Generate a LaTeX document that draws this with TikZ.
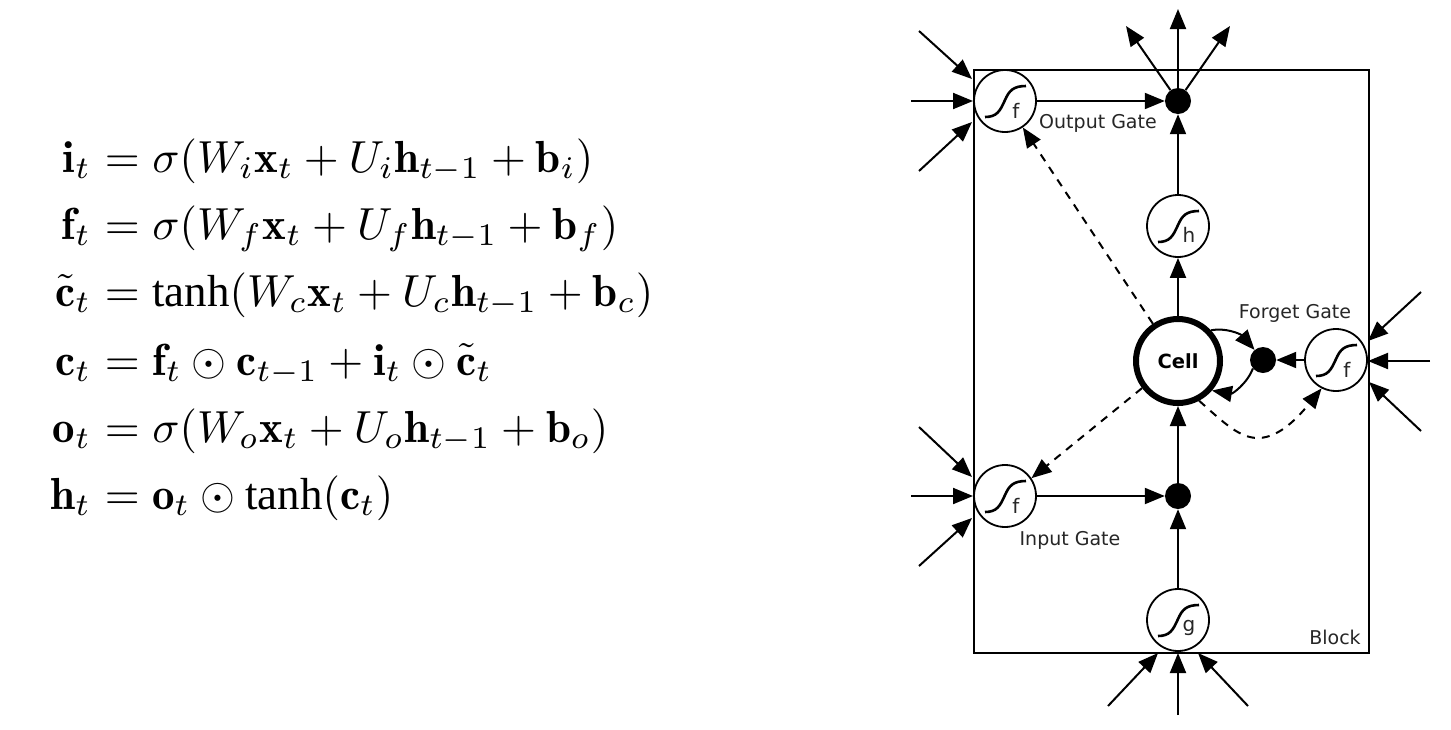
\documentclass[tikz,border=0pt]{standalone}
\usepackage{amsmath,amssymb}
\usepackage{fontspec}
\setsansfont{DejaVu Sans}
\newfontfamily\tanhfont{Liberation Serif}
\newcommand{\tanhop}{\mathop{\hbox{\tanhfont tanh}}\nolimits}
\usetikzlibrary{arrows.meta}
\tikzset{
  gatenode/.style={circle,draw,line width=1.8pt,minimum size=62pt,inner sep=0pt,fill=white},
  dotnode/.style={circle,fill=black,minimum size=26pt,inner sep=0pt},
  cellnode/.style={circle,draw,line width=6pt,minimum size=84pt,inner sep=0pt,fill=white,font=\sffamily\bfseries\fontsize{19.5}{20}\selectfont},
  arr/.style={line width=2pt,-{Triangle[length=20pt,width=16pt]}},
  dasharr/.style={arr,dash pattern=on 8pt off 7pt},
  lab/.style={font=\sffamily\fontsize{19}{20}\selectfont,text=black!85,inner sep=0pt},
  letter/.style={font=\sffamily\fontsize{20}{20}\selectfont,text=black!85,inner sep=0pt},
  lhs/.style={anchor=base east,inner sep=0pt,scale=4.49},
  rhs/.style={anchor=base west,inner sep=0pt,scale=4.49},
  sig/.pic={\draw[line width=2.6pt] (-20,16) .. controls (-8,16) and (-5,10) .. (0,-1) .. controls (4,-10) and (8,-15) .. (21,-15);}
}
\begin{document}
\begin{tikzpicture}[x=1pt,y=-1pt]
\useasboundingbox (0,0) rectangle (1451,729);
% equations
\node[lhs] (l1) at (92,172) {$\mathbf{i}_t$};
\node[rhs] (r1) at (104,172) {$=\sigma(W_i\mathbf{x}_t+U_i\mathbf{h}_{t-1}+\mathbf{b}_i)$};
\node[lhs] (l2) at (92,239) {$\mathbf{f}_t$};
\node[rhs] (r2) at (104,239) {$=\sigma(W_f\mathbf{x}_t+U_f\mathbf{h}_{t-1}+\mathbf{b}_f)$};
\node[lhs] (l3) at (92,306) {$\tilde{\mathbf{c}}_t$};
\node[rhs] (r3) at (104,306) {$=\tanhop(W_c\mathbf{x}_t+U_c\mathbf{h}_{t-1}+\mathbf{b}_c)$};
\node[lhs] (l4) at (92,375) {$\mathbf{c}_t$};
\node[rhs] (r4) at (104,375) {$=\mathbf{f}_t\odot\mathbf{c}_{t-1}+\mathbf{i}_t\odot\tilde{\mathbf{c}}_t$};
\node[lhs] (l5) at (92,442) {$\mathbf{o}_t$};
\node[rhs] (r5) at (104,442) {$=\sigma(W_o\mathbf{x}_t+U_o\mathbf{h}_{t-1}+\mathbf{b}_o)$};
\node[lhs] (l6) at (92,509) {$\mathbf{h}_t$};
\node[rhs] (r6) at (104,509) {$=\mathbf{o}_t\odot\tanhop(\mathbf{c}_t)$};
% block
\node[draw,line width=2pt,minimum width=395pt,minimum height=583pt,inner sep=0pt,anchor=north west] (block) at (973,69) {};
% nodes
\node[gatenode] (fo) at (1005,101) {};
\node[gatenode] (fi) at (1005,496) {};
\node[gatenode] (ff) at (1336,360) {};
\node[gatenode] (h) at (1178,226) {};
\node[gatenode] (g) at (1178,620) {};
\node[cellnode] (cell) at (1178,361) {Cell};
\node[dotnode] (do) at (1178,101) {};
\node[dotnode] (di) at (1178,496) {};
\node[dotnode] (df) at (1263,360) {};
% sigmoids and letters
\pic at (fo) {sig}; \pic at (fi) {sig}; \pic at (ff) {sig}; \pic at (h) {sig}; \pic at (g) {sig};
\node[letter] (lfo) at (1016,111) {f};
\node[letter] (lfi) at (1016,506) {f};
\node[letter] (lff) at (1347,370) {f};
\node[letter] (lh) at (1189,235) {h};
\node[letter] (lg) at (1189,628) {g};
% labels
\node[lab] (toutput) at (1098,123) {Output Gate};
\node[lab] (tinput) at (1070,540) {Input Gate};
\node[lab] (tforget) at (1295,313) {Forget Gate};
\node[lab] (tblock) at (1335,637) {Block};
% free ends
\coordinate (a1) at (919,31);  \coordinate (a1t) at (972,79);
\coordinate (a2) at (911,101); \coordinate (a2t) at (973,101);
\coordinate (a3) at (919,171); \coordinate (a3t) at (972,122);
\coordinate (b1) at (919,427); \coordinate (b1t) at (972,477);
\coordinate (b2) at (911,496); \coordinate (b2t) at (973,496);
\coordinate (b3) at (919,566); \coordinate (b3t) at (972,518);
\coordinate (c1) at (1421,292); \coordinate (c1t) at (1368,341);
\coordinate (c2) at (1430,361); \coordinate (c2t) at (1368,361);
\coordinate (c3) at (1421,431); \coordinate (c3t) at (1369,382);
\coordinate (d1) at (1108,706); \coordinate (d1t) at (1158,653);
\coordinate (d2) at (1178,715); \coordinate (d2t) at (1178,653);
\coordinate (d3) at (1248,706); \coordinate (d3t) at (1198,653);
\coordinate (e1) at (1126,26); \coordinate (e2) at (1178,9); \coordinate (e3) at (1230,26);
% inputs
\foreach \p in {a1,a2,a3,b1,b2,b3,c1,c2,c3,d1,d2,d3} \draw[arr] (\p) -- (\p t);
% outputs
\draw[arr] (do) -- (e1);
\draw[arr] (do) -- (e2);
\draw[arr] (do) -- (e3);
% internal
\draw[arr] (fo) -- (do);
\draw[arr] (fi) -- (di);
\draw[arr] (h) -- (do);
\draw[arr] (cell) -- (h);
\draw[arr] (di) -- (cell);
\draw[arr] (g) -- (di);
\draw[arr] (ff) -- (df);
\draw[arr] (cell.43) .. controls +(14,-3) and +(-14,-16) .. (df.130);
\draw[arr] (df.220) .. controls (1247,384) and (1232,394) .. (cell.-41);
\draw[dasharr] (cell.124) -- (fo.-56);
\draw[dasharr] (cell.217) -- (fi.34);
\draw[dasharr] (cell.-62) .. controls (1225,424) and (1240,438) .. (1258,438) .. controls (1280,438) and (1300,415) .. (ff.-117);
\end{tikzpicture}
\end{document}
